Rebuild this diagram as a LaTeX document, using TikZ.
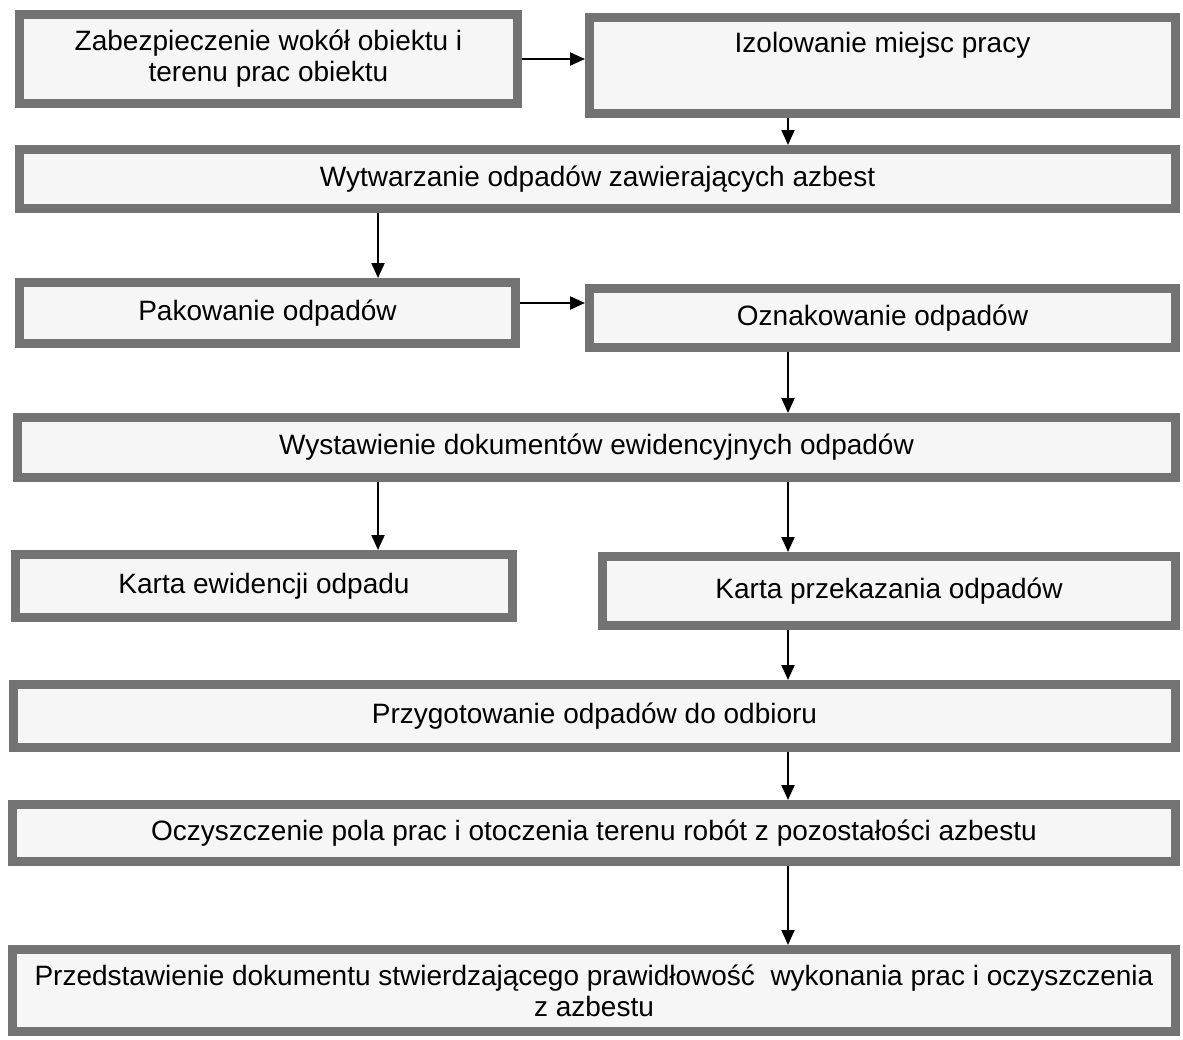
\documentclass[tikz,border=0pt]{standalone}
\usepackage{fontspec}
\setmainfont{Liberation Sans}
\usetikzlibrary{arrows.meta}

\begin{document}
\begin{tikzpicture}[x=1pt, y=-1pt,
  box/.style={draw=black!55, line width=9pt, fill=gray!7, inner sep=0pt,
    align=center, font=\fontsize{28}{31}\selectfont},
  arr/.style={-{Triangle[length=15pt,width=13pt]}, line width=2pt}]

  \useasboundingbox (0,0) rectangle (1183,1039);

  \coordinate (colL) at (378,0);
  \coordinate (colR) at (788,0);
  \coordinate (rowP) at (0,303);

  \node[box, minimum width=498pt, minimum height=89pt] (b1) at (268.5,59) {Zabezpieczenie wokół obiektu i\\terenu prac obiektu};
  \node[box, minimum width=586pt, minimum height=96pt, text depth=46pt] (b2) at (882.5,65.5) {Izolowanie miejsc pracy};
  \node[box, minimum width=1156pt, minimum height=59pt] (b3) at (597.5,179) {Wytwarzanie odpadów zawierających azbest};
  \node[box, minimum width=496pt, minimum height=61pt] (b4) at (267.5,313) {Pakowanie odpadów};
  \node[box, minimum width=586pt, minimum height=59pt] (b5) at (882.5,318) {Oznakowanie odpadów};
  \node[box, minimum width=1158pt, minimum height=60pt] (b6) at (596.5,447.5) {Wystawienie dokumentów ewidencyjnych odpadów};
  \node[box, minimum width=497pt, minimum height=63pt] (b7) at (264,586) {Karta ewidencji odpadu};
  \node[box, minimum width=573pt, minimum height=69pt] (b8) at (889,591) {Karta przekazania odpadów};
  \node[box, minimum width=1162pt, minimum height=63pt] (b9) at (594.5,716) {Przygotowanie odpadów do odbioru};
  \node[box, minimum width=1163pt, minimum height=57pt] (b10) at (594,833) {Oczyszczenie pola prac i otoczenia terenu robót z pozostałości azbestu};
  \node[box, minimum width=1163pt, minimum height=82pt] (b11) at (594,990.5) {Przedstawienie dokumentu stwierdzającego prawidłowość\ \ wykonania prac i oczyszczenia\\z azbestu};

  % strzalki
  \draw[arr] (b1.east) -- (b1.east -| b2.west);
  \draw[arr] (b2.south -| colR) -- (b3.north -| colR);
  \draw[arr] (b3.south -| colL) -- (b4.north -| colL);
  \draw[arr] (b4.east |- rowP) -- (b5.west |- rowP);
  \draw[arr] (b5.south -| colR) -- (b6.north -| colR);
  \draw[arr] (b6.south -| colL) -- (b7.north -| colL);
  \draw[arr] (b6.south -| colR) -- (b8.north -| colR);
  \draw[arr] (b8.south -| colR) -- (b9.north -| colR);
  \draw[arr] (b9.south -| colR) -- (b10.north -| colR);
  \draw[arr] (b10.south -| colR) -- (b11.north -| colR);

\end{tikzpicture}
\end{document}
